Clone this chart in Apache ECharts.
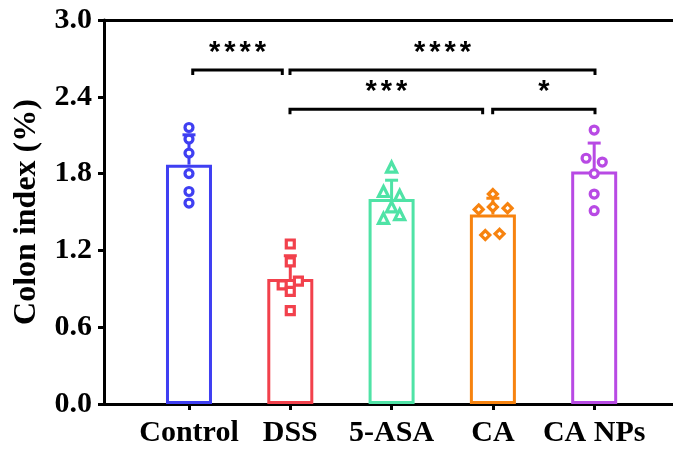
<!DOCTYPE html>
<html>
<head>
<meta charset="utf-8">
<script src="https://cdn.jsdelivr.net/npm/echarts@6/dist/echarts.min.js"></script>
<style>
html,body{margin:0;padding:0;background:#fff;}
#chart{width:673px;height:457px;}
</style>
</head>
<body>
<div id="chart"></div>
<script>
// ---- data ----
const categories = ['Control', 'DSS', '5-ASA', 'CA', 'CA NPs'];
const controlValues = [2.16, 2.07, 1.96, 1.80, 1.66, 1.57];
const dssValues = [1.25, 1.11, 0.93, 0.96, 0.88, 0.73];
const asaValues = [1.85, 1.66, 1.63, 1.54, 1.45, 1.48];
const caValues = [1.64, 1.54, 1.52, 1.53, 1.32, 1.33];
const caNpsValues = [2.14, 1.92, 1.89, 1.80, 1.64, 1.51];
const yTicks = [0, 0.6, 1.2, 1.8, 2.4, 3.0];
const sigLabels = ['****', '****', '***', '*'];

// ---- layout / style (not data) ----
const groups = [controlValues, dssValues, asaValues, caValues, caNpsValues];
const colors = ['#3f3ff2', '#f2414c', '#4fe3a6', '#f7830f', '#b84ae4'];
const symbols = ['circle', 'rect', 'triangle', 'diamond', 'circle'];
const symbolSizes = [8, 8, 10, 9, 8];
const jitter = [
  [0, 0, 0, 0, 0, 0],
  [0, 0, -0.08, 0.08, 0, 0],
  [0, -0.08, 0.08, 0, -0.08, 0.08],
  [0, 0, -0.14, 0.145, -0.075, 0.066],
  [0, -0.08, 0.08, 0, 0, 0]
];
const sigFrom = [0.037, 0.997, 0.997, 2.998];
const sigTo = [0.921, 4.008, 2.899, 4.008];
const sigLevel = [2.609, 2.609, 2.302, 2.302];

function mean(a){ return a.reduce((s,v)=>s+v,0)/a.length; }
function sd(a){ const m = mean(a); return Math.sqrt(a.reduce((s,v)=>s+(v-m)*(v-m),0)/(a.length-1)); }

const means = groups.map(mean);
const sds = groups.map(sd);

const serif = '"Liberation Serif", "Times New Roman", serif';
const labelStyle = {fontFamily: serif, fontWeight: 'bold', fontSize: 30, color: '#000'};

const series = [];
series.push({
  type: 'bar',
  xAxisIndex: 0,
  barWidth: 46,
  z: 2,
  silent: true,
  data: means.map((m, i) => ({value: [i, m], itemStyle: {color: '#fff', borderColor: colors[i], borderWidth: 3}}))
});
series.push({
  type: 'custom',
  xAxisIndex: 0,
  z: 3,
  silent: true,
  data: means.map((m, i) => [i, m, m + sds[i]]),
  renderItem: function(params, api){
    const i = api.value(0);
    const p0 = api.coord([i, api.value(1)]);
    const p1 = api.coord([i, api.value(2)]);
    const c = colors[params.dataIndex];
    return {type: 'group', children: [
      {type: 'line', shape: {x1: p0[0], y1: p0[1], x2: p1[0], y2: p1[1]}, style: {stroke: c, lineWidth: 3}},
      {type: 'line', shape: {x1: p1[0]-6.5, y1: p1[1], x2: p1[0]+6.5, y2: p1[1]}, style: {stroke: c, lineWidth: 3}}
    ]};
  }
});
groups.forEach((vals, g) => {
  series.push({
    type: 'scatter',
    xAxisIndex: 0,
    z: 4,
    silent: true,
    symbol: symbols[g],
    symbolSize: symbolSizes[g],
    itemStyle: {color: '#fff', borderColor: colors[g], borderWidth: 3.2, opacity: 1},
    data: vals.map((v, k) => [g + jitter[g][k], v])
  });
});
series.push({
  type: 'custom',
  xAxisIndex: 0,
  z: 5,
  silent: true,
  data: sigLabels.map((l, k) => [sigFrom[k], sigTo[k], sigLevel[k]]),
  renderItem: function(params, api){
    const a = api.coord([api.value(0), api.value(2)]);
    const b = api.coord([api.value(1), api.value(2)]);
    const lbl = sigLabels[params.dataIndex];
    const n = lbl.length, step = 15.3;
    const cx = (a[0]+b[0])/2;
    const children = [
      {type: 'polyline', shape: {points: [[a[0], a[1]+5], [a[0], a[1]], [b[0], b[1]], [b[0], b[1]+5]]}, style: {stroke: '#000', lineWidth: 3, fill: null}}
    ];
    for (let k = 0; k < n; k++) {
      children.push({type: 'text', x: cx + (k - (n-1)/2) * step, y: a[1] - 17,
        style: {text: lbl[k], fill: '#000', font: 'bold 29px "Liberation Sans", Arial, sans-serif', align: 'center', verticalAlign: 'middle'}});
    }
    return {type: 'group', children: children};
  }
});

const chart = echarts.init(document.getElementById('chart'), null, {renderer: 'canvas'});
chart.setOption({
  animation: false,
  backgroundColor: '#fff',
  grid: {left: 104, right: 0, top: 20, bottom: 53, containLabel: false},
  xAxis: [{
    type: 'value',
    min: -0.839,
    max: 4.778,
    position: 'bottom',
    splitLine: {show: false},
    axisLine: {show: true, onZero: false, lineStyle: {color: '#000', width: 3}},
    axisTick: {show: true, customValues: [0, 1, 2, 3, 4], length: 6, lineStyle: {color: '#000', width: 3}},
    axisLabel: {show: true, customValues: [0, 1, 2, 3, 4], margin: 14, formatter: v => categories[Math.round(v)], ...labelStyle}
  }, {
    type: 'value',
    min: -0.839,
    max: 4.778,
    position: 'top',
    splitLine: {show: false},
    axisLine: {show: true, onZero: false, lineStyle: {color: '#000', width: 3}},
    axisTick: {show: false},
    axisLabel: {show: false}
  }],
  yAxis: {
    type: 'value',
    min: yTicks[0],
    max: yTicks[yTicks.length - 1],
    interval: 0.6,
    name: 'Colon index (%)',
    nameLocation: 'middle',
    nameGap: 61,
    nameTextStyle: {fontFamily: serif, fontWeight: 'bold', fontSize: 32, color: '#000'},
    splitLine: {show: false},
    axisLine: {show: true, onZero: false, lineStyle: {color: '#000', width: 3}},
    axisTick: {show: true, length: 6, lineStyle: {color: '#000', width: 3}},
    axisLabel: {margin: 12, formatter: v => v.toFixed(1), ...labelStyle}
  },
  series: series
});
</script>
</body>
</html>
